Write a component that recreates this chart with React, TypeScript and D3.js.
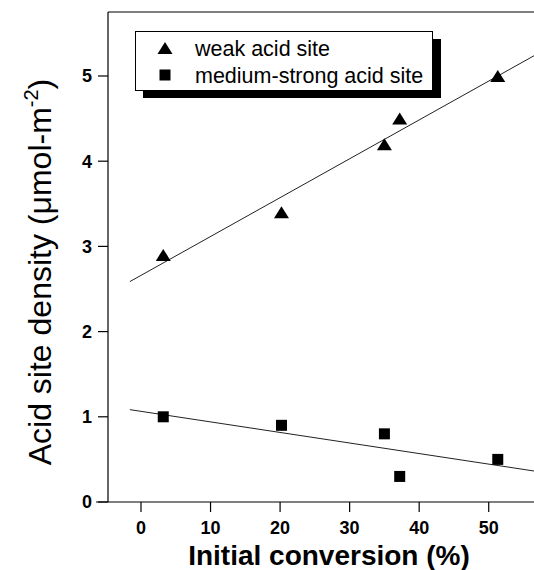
import React from "react";
import * as d3 from "d3";

const conversion = [3.2, 20.2, 35.0, 37.2, 51.3];
const weakSite = [2.9, 3.4, 4.2, 4.5, 5.0];
const mediumStrongSite = [1.0, 0.9, 0.8, 0.3, 0.5];
const xTicks = [0, 10, 20, 30, 40, 50];
const yTicks = [0, 1, 2, 3, 4, 5];
const legendLabels = ["weak acid site", "medium-strong acid site"];
const fitStartX = -1.6;

const W = 534;
const H = 570;
const FONT = "Liberation Sans, Arial, Helvetica, sans-serif";

function linFit(xs: number[], ys: number[]) {
  const mx = d3.mean(xs) as number;
  const my = d3.mean(ys) as number;
  let sxy = 0;
  let sxx = 0;
  xs.forEach((x, i) => {
    sxy += (x - mx) * (ys[i] - my);
    sxx += (x - mx) * (x - mx);
  });
  const b = sxy / sxx;
  return { a: my - b * mx, b };
}

export default function App() {
  const x = d3.scaleLinear().domain([-6.47, 56.51]).range([96, 534]);
  const y = d3.scaleLinear().domain([0, 5.751]).range([502, 12]);
  const axisX = 108;
  const topY = y(5.751);
  const baseY = y(0);

  const fits = [linFit(conversion, weakSite), linFit(conversion, mediumStrongSite)];
  const xEnd = x.domain()[1];
  const line = d3
    .line<[number, number]>()
    .x((d) => x(d[0]))
    .y((d) => y(d[1]));

  const tri = (cx: number, cy: number, w = 15, h = 12) =>
    `M${cx},${cy - h / 2}L${cx + w / 2},${cy + h / 2}L${cx - w / 2},${cy + h / 2}Z`;
  const sq = 11;

  return (
    <svg
      width={W}
      height={H}
      style={{ position: "absolute", left: 0, top: 0, background: "#fff" }}
      fontFamily={FONT}
    >
      <rect x={0} y={0} width={W} height={H} fill="#fff" />
      {/* frame lines */}
      <line x1={axisX} y1={topY} x2={W} y2={topY} stroke="#000" strokeWidth={1.2} />
      <line x1={axisX} y1={topY} x2={axisX} y2={baseY} stroke="#000" strokeWidth={1.2} />
      <line x1={96} y1={baseY} x2={W} y2={baseY} stroke="#000" strokeWidth={1.2} />

      {/* y ticks */}
      {yTicks.map((t) => (
        <g key={"y" + t}>
          <line x1={axisX - 10} x2={axisX} y1={y(t)} y2={y(t)} stroke="#000" strokeWidth={1.2} />
          <text
            x={92}
            y={y(t)}
            dy="0.36em"
            textAnchor="end"
            fontSize={18}
            fontWeight="bold"
          >
            {t}
          </text>
        </g>
      ))}
      {/* x ticks */}
      {xTicks.map((t) => (
        <g key={"x" + t}>
          <line x1={x(t)} x2={x(t)} y1={baseY} y2={baseY + 10} stroke="#000" strokeWidth={1.2} />
          <text
            x={x(t)}
            y={534}
            textAnchor="middle"
            fontSize={18}
            fontWeight="bold"
          >
            {t}
          </text>
        </g>
      ))}

      {/* axis titles */}
      <text x={329} y={565} textAnchor="middle" fontSize={28} fontWeight="bold">
        Initial conversion (%)
      </text>
      <text
        transform={`translate(51,272) rotate(-90)`}
        textAnchor="middle"
        fontSize={32}
      >
        Acid site density (μmol-m
        <tspan fontSize={20} dy={-13}>
          -2
        </tspan>
        <tspan dy={13}>)</tspan>
      </text>

      {/* fit lines */}
      {fits.map((f, i) => (
        <path
          key={"fit" + i}
          d={
            line([
              [fitStartX, f.a + f.b * fitStartX],
              [xEnd, f.a + f.b * xEnd],
            ]) as string
          }
          fill="none"
          stroke="#222"
          strokeWidth={1}
        />
      ))}

      {/* points */}
      {conversion.map((c, i) => (
        <path key={"t" + i} d={tri(x(c), y(weakSite[i]))} fill="#000" />
      ))}
      {conversion.map((c, i) => (
        <rect
          key={"s" + i}
          x={x(c) - sq / 2}
          y={y(mediumStrongSite[i]) - sq / 2}
          width={sq}
          height={sq}
          fill="#000"
        />
      ))}

      {/* legend */}
      <rect x={143} y={39} width={298} height={59} fill="#000" />
      <rect x={135.5} y={31.5} width={297} height={59} fill="#fff" stroke="#000" strokeWidth={1} />
      <path d={tri(165, 48)} fill="#000" />
      <rect x={165 - sq / 2} y={75 - sq / 2} width={sq} height={sq} fill="#000" />
      <text x={195} y={55.5} fontSize={21.5}>
        {legendLabels[0]}
      </text>
      <text x={195} y={82.5} fontSize={21.5}>
        {legendLabels[1]}
      </text>
    </svg>
  );
}
